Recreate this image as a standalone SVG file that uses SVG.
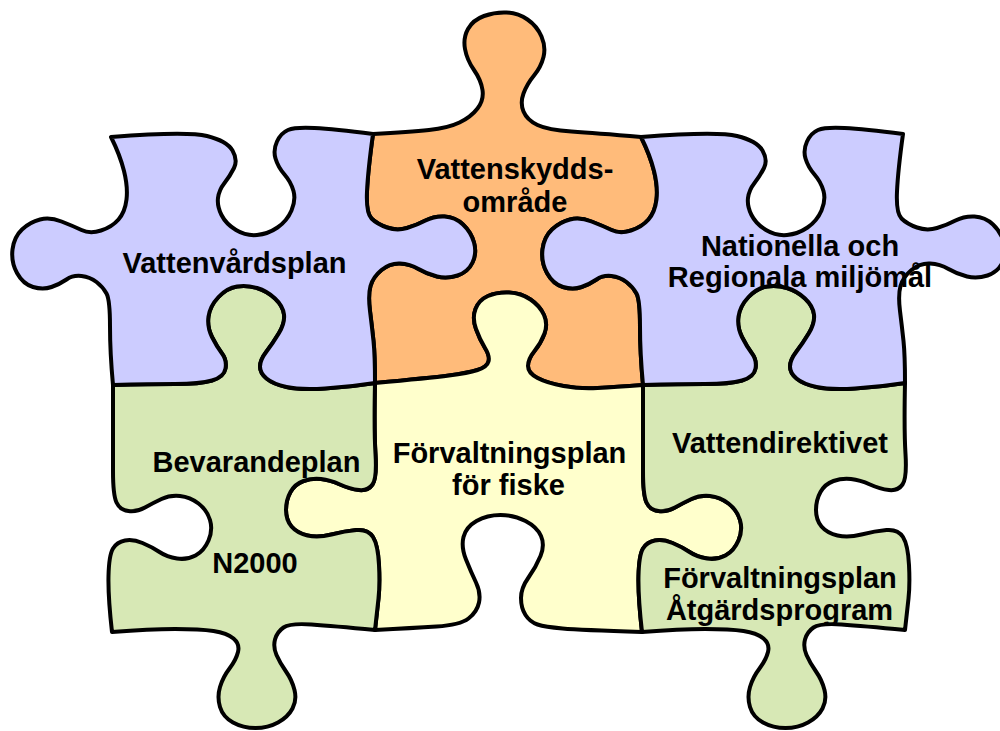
<svg xmlns="http://www.w3.org/2000/svg" xmlns:xlink="http://www.w3.org/1999/xlink" width="1000" height="731" viewBox="0 0 1000 731">
<style>
.piece{stroke:#000;stroke-width:4;stroke-linejoin:round;stroke-linecap:round}
.purple{fill:#CCCCFF}
.orange{fill:#FFBB7A}
.green{fill:#D7E8B5}
.yellow{fill:#FFFFCC}
.lbl{font-family:"Liberation Sans",Arial,sans-serif;font-weight:bold;font-size:29px;fill:#000;text-anchor:middle}
</style>
<defs>
<path id="purple-shape" d="M111,137 Q187,131 207,136 Q227,141 232.5,150.5 Q238,160 234,168 Q230,176 224.5,183 Q219,190 218,198 Q217,206 221.5,215 Q226,224 236,230 Q246,236 257,235 Q268,234 277.5,227.5 Q287,221 291.5,210.5 Q296,200 293.5,191 Q291,182 284.5,174.5 Q278,167 275.5,158.5 Q273,150 277,141.5 Q281,133 288,130 Q295,127 314.5,128 Q334,129 373,134 Q368,170 367,191.5 Q366,213 371.5,218.5 Q377,224 387,227.5 Q397,231 407,228 Q417,225 425.5,220.5 Q434,216 444.5,216.5 Q455,217 463,224.5 Q471,232 474,242.5 Q477,253 472.5,262.5 Q468,272 457.5,275.5 Q447,279 437,276.5 Q427,274 418.5,269 Q410,264 400,263.5 Q390,263 381.5,270 Q373,277 370.5,286 Q368,295 370,311 Q372,327 373.5,341 Q375,355 375,383 Q350,387 325,388.5 Q300,390 286.5,387 Q273,384 266.5,378.5 Q260,373 260,366.5 Q260,360 266.5,351.5 Q273,343 279,333 Q285,323 284,314.5 Q283,306 275,298.5 Q267,291 257,288 Q247,285 237,286.5 Q227,288 218.5,297 Q210,306 208.5,316.5 Q207,327 212,337 Q217,347 222,353.5 Q227,360 225.5,368.5 Q224,377 212,380.5 Q200,384 175,384 Q150,384 113,385 Q110,353 110,326.5 Q110,300 106.5,293.5 Q103,287 96.5,282 Q90,277 81.5,276 Q73,275 66.5,279.5 Q60,284 51.5,287 Q43,290 33,287 Q23,284 17,273 Q11,262 12.5,249.5 Q14,237 22,229.5 Q30,222 40,219.5 Q50,217 61.5,221.5 Q73,226 81.5,230 Q90,234 101,230.5 Q112,227 118.5,219.5 Q125,212 126.5,199.5 Q128,187 124,171 Q120,155 111,137 Z"/>
<path id="green-shape" d="M113,385 Q150,384 175,384 Q200,384 212,380.5 Q224,377 225.5,368.5 Q227,360 222,353.5 Q217,347 212,337 Q207,327 208.5,316.5 Q210,306 218.5,297 Q227,288 237,286.5 Q247,285 257,288 Q267,291 275,298.5 Q283,306 284,314.5 Q285,323 279,333 Q273,343 266.5,351.5 Q260,360 260,366.5 Q260,373 266.5,378.5 Q273,384 286.5,387 Q300,390 325,388.5 Q350,387 375,383 Q374,430 375.5,454 Q377,478 372.5,484.5 Q368,491 359,490 Q350,489 340,484.5 Q330,480 321,479 Q312,478 303.5,481 Q295,484 290.5,492 Q286,500 286,510 Q286,520 291.5,526.5 Q297,533 307.5,535.5 Q318,538 331.5,534.5 Q345,531 356.5,530 Q368,529 373,537 Q378,545 379,565 Q380,585 378.5,598.5 Q377,612 375,630 Q333,626 311.5,624.5 Q290,623 283.5,627.5 Q277,632 275,639.5 Q273,647 276.5,655 Q280,663 286,671.5 Q292,680 294.5,690 Q297,700 292.5,708.5 Q288,717 278,722.5 Q268,728 255.5,728 Q243,728 233,722.5 Q223,717 220,707 Q217,697 220,687 Q223,677 229.5,668.5 Q236,660 238,652 Q240,644 233.5,638.5 Q227,633 213.5,631 Q200,629 175,629 Q150,629 112,632 Q108,597 108.5,576 Q109,555 113,548.5 Q117,542 125,540.5 Q133,539 142.5,543 Q152,547 159.5,552 Q167,557 177,558.5 Q187,560 195.5,555.5 Q204,551 208.5,540.5 Q213,530 210,520 Q207,510 198.5,503.5 Q190,497 180,496 Q170,495 161.5,499 Q153,503 145,507.5 Q137,512 128.5,511 Q120,510 116.5,502.5 Q113,495 113,471 Q113,447 113,385 Z"/>
</defs>
<g id="connectors"></g>
<g id="piece-vattenskyddsomrade">
<path class="piece orange" d="M373,134 Q410,132 429,130 Q448,128 459.5,122.5 Q471,117 477.5,108.5 Q484,100 482.5,90 Q481,80 474,70 Q467,60 465,49 Q463,38 468,29 Q473,20 484,16 Q495,12 506.5,12.5 Q518,13 527.5,19.5 Q537,26 541.5,36.5 Q546,47 543.5,57 Q541,67 534,75.5 Q527,84 523.5,93.5 Q520,103 523.5,111.5 Q527,120 537.5,125 Q548,130 571.5,131.5 Q595,133 641,137 Q650,155 654,171 Q658,187 656.5,199.5 Q655,212 648.5,219.5 Q642,227 631,230.5 Q620,234 611.5,230 Q603,226 591.5,221.5 Q580,217 570,219.5 Q560,222 552,229.5 Q544,237 542.5,249.5 Q541,262 547,273 Q553,284 563,287 Q573,290 581.5,287 Q590,284 596.5,279.5 Q603,275 611.5,276 Q620,277 626.5,282 Q633,287 636.5,293.5 Q640,300 640,326.5 Q640,353 643,385 Q615,387 597.5,388 Q580,389 563.5,386 Q547,383 537.5,378 Q528,373 528,366 Q528,359 534.5,351 Q541,343 544.5,333.5 Q548,324 544,315 Q540,306 530.5,299.5 Q521,293 509,292.5 Q497,292 488,296 Q479,300 475.5,309 Q472,318 476,329 Q480,340 485,348 Q490,356 488.5,361.5 Q487,367 477.5,370 Q468,373 449,375.5 Q430,378 375,383 Q375,355 373.5,341 Q372,327 370,311 Q368,295 370.5,286 Q373,277 381.5,270 Q390,263 400,263.5 Q410,264 418.5,269 Q427,274 437,276.5 Q447,279 457.5,275.5 Q468,272 472.5,262.5 Q477,253 474,242.5 Q471,232 463,224.5 Q455,217 444.5,216.5 Q434,216 425.5,220.5 Q417,225 407,228 Q397,231 387,227.5 Q377,224 371.5,218.5 Q366,213 367,191.5 Q368,170 373,134 Z"/>
<text class="lbl" x="515" y="179">Vattenskydds-</text>
<text class="lbl" x="515" y="212">område</text>
</g>
<g id="piece-forvaltningsplan-fiske">
<path class="piece yellow" d="M375,383 Q430,378 449,375.5 Q468,373 477.5,370 Q487,367 488.5,361.5 Q490,356 485,348 Q480,340 476,329 Q472,318 475.5,309 Q479,300 488,296 Q497,292 509,292.5 Q521,293 530.5,299.5 Q540,306 544,315 Q548,324 544.5,333.5 Q541,343 534.5,351 Q528,359 528,366 Q528,373 537.5,378 Q547,383 563.5,386 Q580,389 597.5,388 Q615,387 643,385 Q643,447 643,471 Q643,495 646.5,502.5 Q650,510 658.5,511 Q667,512 675,507.5 Q683,503 691.5,499 Q700,495 710,496 Q720,497 728.5,503.5 Q737,510 740,520 Q743,530 738.5,540.5 Q734,551 725.5,555.5 Q717,560 707,558.5 Q697,557 689.5,552 Q682,547 672.5,543 Q663,539 655,540.5 Q647,542 643,548.5 Q639,555 638.5,576 Q638,597 642,632 Q580,630 562.5,628.5 Q545,627 537.5,624.5 Q530,622 525.5,615 Q521,608 521,598 Q521,588 528.5,577.5 Q536,567 540.5,556 Q545,545 541,536 Q537,527 525.5,521 Q514,515 500.5,515 Q487,515 476.5,521 Q466,527 463.5,537 Q461,547 466,559.5 Q471,572 476,582.5 Q481,593 479,602.5 Q477,612 468.5,618.5 Q460,625 436.5,626.5 Q413,628 375,630 Q377,612 378.5,598.5 Q380,585 379,565 Q378,545 373,537 Q368,529 356.5,530 Q345,531 331.5,534.5 Q318,538 307.5,535.5 Q297,533 291.5,526.5 Q286,520 286,510 Q286,500 290.5,492 Q295,484 303.5,481 Q312,478 321,479 Q330,480 340,484.5 Q350,489 359,490 Q368,491 372.5,484.5 Q377,478 375.5,454 Q374,430 375,383 Z"/>
<text class="lbl" x="509.5" y="463">Förvaltningsplan</text>
<text class="lbl" x="508.5" y="495">för fiske</text>
</g>
<g id="piece-bevarandeplan">
<use href="#green-shape" xlink:href="#green-shape" class="piece green"/>
<text class="lbl" x="256.5" y="472">Bevarandeplan</text>
<text class="lbl" x="255" y="573">N2000</text>
</g>
<g id="piece-vattendirektivet">
<use href="#green-shape" xlink:href="#green-shape" class="piece green" transform="translate(530,0)"/>
<text class="lbl" x="780" y="453">Vattendirektivet</text>
<text class="lbl" x="780" y="588">Förvaltningsplan</text>
<text class="lbl" x="779.5" y="620">Åtgärdsprogram</text>
</g>
<g id="piece-vattenvardsplan">
<use href="#purple-shape" xlink:href="#purple-shape" class="piece purple"/>
<text class="lbl" x="234.5" y="273">Vattenvårdsplan</text>
</g>
<g id="piece-nationella">
<use href="#purple-shape" xlink:href="#purple-shape" class="piece purple" transform="translate(530,0)"/>
<text class="lbl" x="800" y="256">Nationella och</text>
<text class="lbl" x="800" y="287">Regionala miljömål</text>
</g>
</svg>
